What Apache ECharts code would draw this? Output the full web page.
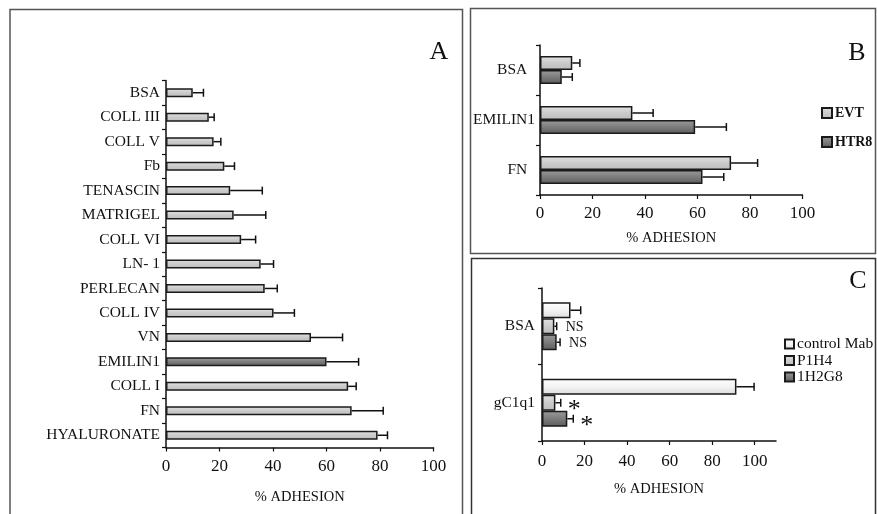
<!DOCTYPE html>
<html>
<head>
<meta charset="utf-8">
<script src="https://cdn.jsdelivr.net/npm/echarts@6/dist/echarts.min.js"></script>
<style>
  html, body { margin: 0; padding: 0; background: #fff; }
  #chart { width: 877px; height: 514px; }
</style>
</head>
<body>
<div id="chart"></div>
<script>
// panel A: adhesion to ECM substrates (top to bottom)
const aCategories = ['BSA', 'COLL III', 'COLL V', 'Fb', 'TENASCIN', 'MATRIGEL', 'COLL VI', 'LN- 1',
    'PERLECAN', 'COLL IV', 'VN', 'EMILIN1', 'COLL I', 'FN', 'HYALURONATE']
const aMeans = [10, 16, 17.8, 21.8, 24, 25.3, 28.1, 35.4, 36.9, 40.2, 54.2, 60, 68.1, 69.4, 79.1]
const aErrors = [4, 2, 2.7, 3.8, 12, 12, 5.4, 4.8, 4.7, 7.8, 11.8, 12, 3, 11.8, 3.7]
const aHighlight = 'EMILIN1'

// panel B: EVT vs HTR8
const bCategories = ['BSA', 'EMILIN1', 'FN']
const bSeries = ['EVT', 'HTR8']
const bMeans = [
    [12.3, 35.2, 72.8],
    [8.3, 59.1, 61.9]
]
const bErrors = [
    [2.9, 7.9, 10.1],
    [4, 11.9, 8.1]
]

// panel C: blocking antibodies
const cCategories = ['BSA', 'gC1q1']
const cSeries = ['control Mab', 'P1H4', '1H2G8']
const cMeans = [
    [13.4, 91.4],
    [5.8, 6.3],
    [6.9, 11.9]
]
const cErrors = [
    [4.8, 8.3],
    [1.1, 2.5],
    [1.6, 2.8]
]
const cNotes = [
    ['', ''],
    ['NS', '*'],
    ['NS', '*']
]

const FONT = 'Liberation Serif'

function grad(stops) {
    return new echarts.graphic.LinearGradient(0, 0, 0, 1, stops.map((c, i) => ({
        offset: i / (stops.length - 1), color: c
    })))
}
const LIGHT = ['#e2e2e2', '#cbcbcb', '#bcbcbc']
const DARK = ['#9c9c9c', '#7c7c7c', '#5c5c5c']
const WHITE = ['#ffffff', '#f3f3f3', '#dcdcdc']

function barStyle(stops) {
    return { color: grad(stops), borderColor: '#1a1a1a', borderWidth: 1.5 }
}

// error bar drawn from the mean to mean + error, with a cap
function errorRender(offsetPx, capH, notes) {
    return function (params, api) {
        const cat = api.value(0)
        const p0 = api.coord([api.value(1), cat])
        const p1 = api.coord([api.value(2), cat])
        const y = p0[1] + offsetPx
        const stroke = { stroke: '#111', lineWidth: 1.5 }
        const children = [
            { type: 'line', shape: { x1: p0[0], y1: y, x2: p1[0], y2: y }, style: stroke },
            { type: 'line', shape: { x1: p1[0], y1: y - capH / 2, x2: p1[0], y2: y + capH / 2 }, style: stroke }
        ]
        const note = notes ? notes[params.dataIndex] : ''
        if (note) {
            const star = note === '*'
            children.push({
                type: 'text',
                style: {
                    x: p1[0] + (star ? 7 : 9), y: y + (star ? 7 : 1),
                    text: note,
                    font: (star ? '26px ' : '14px ') + FONT,
                    fill: '#111',
                    verticalAlign: 'middle'
                }
            })
        }
        return { type: 'group', children: children }
    }
}

function valueAxis(gridIndex, max, margin) {
    return {
        type: 'value', gridIndex: gridIndex, min: 0, max: max, interval: 20,
        name: '% ADHESION', nameLocation: 'middle',
        nameTextStyle: { fontFamily: FONT, fontSize: 14.5, color: '#111' },
        axisLine: { show: true, lineStyle: { color: '#111', width: 1.5 } },
        axisTick: { show: true, length: 4, lineStyle: { color: '#111', width: 1.2 } },
        axisLabel: { fontFamily: FONT, fontSize: 17, color: '#111', margin: margin, showMaxLabel: max === 100 },
        splitLine: { show: false }
    }
}

function categoryAxis(gridIndex, data, margin, formatter) {
    return {
        type: 'category', gridIndex: gridIndex, data: data, inverse: true,
        axisLine: { show: true, lineStyle: { color: '#111', width: 1.5 } },
        axisTick: { show: true, length: 4, lineStyle: { color: '#111', width: 1.2 } },
        axisLabel: { fontFamily: FONT, fontSize: 15.5, color: '#111', margin: margin, formatter: formatter }
    }
}

function draw() {
    const chart = echarts.init(document.getElementById('chart'))
    chart.setOption(getOptions())
}

function getOptions() {
    const series = []

    // panel A
    series.push({
        type: 'bar', name: 'A', xAxisIndex: 0, yAxisIndex: 0, barWidth: 9,
        data: aMeans.map((v, i) => ({
            value: v,
            itemStyle: barStyle(aCategories[i] === aHighlight ? DARK : LIGHT)
        })),
        silent: true
    })
    series.push({
        type: 'custom', xAxisIndex: 0, yAxisIndex: 0, z: 5,
        renderItem: errorRender(0, 8),
        encode: { y: 0, x: [1, 2] },
        data: aMeans.map((v, i) => [aCategories[i], v, v + aErrors[i]])
    })

    // panel B
    const bw = 14
    bSeries.forEach((name, s) => {
        series.push({
            type: 'bar', name: name, xAxisIndex: 1, yAxisIndex: 1,
            barWidth: bw, barGap: '0%',
            itemStyle: barStyle(s === 0 ? LIGHT : DARK),
            data: bMeans[s]
        })
    })
    bSeries.forEach((name, s) => {
        series.push({
            type: 'custom', xAxisIndex: 1, yAxisIndex: 1, z: 5,
            renderItem: errorRender((s - (bSeries.length - 1) / 2) * bw, 8),
            encode: { y: 0, x: [1, 2] },
            data: bMeans[s].map((v, i) => [bCategories[i], v, v + bErrors[s][i]])
        })
    })

    // panel C
    const cw = 16
    const cStyles = [WHITE, LIGHT, DARK]
    cSeries.forEach((name, s) => {
        series.push({
            type: 'bar', name: name, xAxisIndex: 2, yAxisIndex: 2,
            barWidth: cw, barGap: '0%',
            itemStyle: barStyle(cStyles[s]),
            data: cMeans[s]
        })
    })
    cSeries.forEach((name, s) => {
        series.push({
            type: 'custom', xAxisIndex: 2, yAxisIndex: 2, z: 5,
            renderItem: errorRender((s - (cSeries.length - 1) / 2) * cw, 8, cNotes[s]),
            encode: { y: 0, x: [1, 2] },
            data: cMeans[s].map((v, i) => [cCategories[i], v, v + cErrors[s][i]])
        })
    })

    const panelLabel = (text, x, y) => ({
        type: 'text', x: x, y: y,
        style: { text: text, font: '26px ' + FONT, fill: '#111', align: 'center', verticalAlign: 'middle' }
    })
    const frame = (x, y, w, h, color) => ({
        type: 'rect', shape: { x: x, y: y, width: w, height: h },
        style: { fill: 'none', stroke: color, lineWidth: 1.5 }, silent: true
    })

    return {
        backgroundColor: '#fff',
        animation: false,
        grid: [
            { left: 166, right: 443.5, top: 80.5, bottom: 66.5 },
            { left: 540, right: 74.5, top: 45, bottom: 319 },
            { left: 542, right: 101, top: 288, bottom: 73 }
        ],
        xAxis: [
            Object.assign(valueAxis(0, 100, 11), { nameGap: 42 }),
            Object.assign(valueAxis(1, 100, 10), { nameGap: 36 }),
            Object.assign(valueAxis(2, 110, 12), { nameGap: 41 })
        ],
        yAxis: [
            categoryAxis(0, aCategories, 6),
            categoryAxis(1, bCategories, 5, v => v === 'EMILIN1' ? v : v + '  '),
            categoryAxis(2, cCategories, 7)
        ],
        legend: [
            {
                data: bSeries, orient: 'vertical', left: 816, top: 101,
                itemWidth: 10, itemHeight: 10, itemGap: 15, icon: 'rect',
                textStyle: { fontFamily: FONT, fontSize: 14, fontWeight: 'bold', color: '#111', padding: [0, 0, 0, -2] },
                selectedMode: false
            },
            {
                data: cSeries, orient: 'vertical', left: 779, top: 331,
                itemWidth: 9, itemHeight: 9, itemGap: 0.5, icon: 'rect',
                textStyle: { fontFamily: FONT, fontSize: 15.5, color: '#111', lineHeight: 14, padding: [0, 0, 0, -2] },
                selectedMode: false
            }
        ],
        graphic: [
            frame(10, 9.5, 452.5, 520, '#555'),
            frame(470.5, 8.5, 405, 245, '#555'),
            frame(471.5, 258.5, 404, 270, '#333'),
            panelLabel('A', 439, 52),
            panelLabel('B', 857, 53),
            panelLabel('C', 858, 281)
        ],
        series: series
    }
}

draw()
</script>
</body>
</html>
